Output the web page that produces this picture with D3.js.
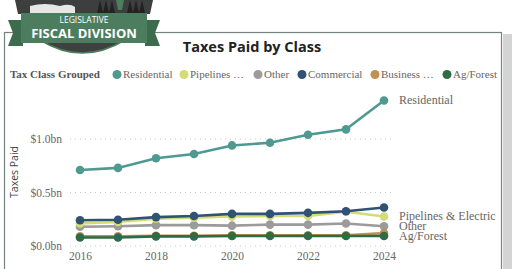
<!DOCTYPE html>
<html>
<head>
<meta charset="utf-8">
<script src="https://cdn.jsdelivr.net/npm/d3@7"></script>
<style>
  body { margin: 0; background: #fff; }
  svg { display: block; }
</style>
</head>
<body>
<div id="chart"></div>
<script>
// Data
var years = [2016, 2017, 2018, 2019, 2020, 2021, 2022, 2023, 2024];
var seriesNames = ["Residential", "Pipelines & Electric", "Other", "Commercial", "Business Equipment", "Ag/Forest"];
var legendLabels = ["Residential", "Pipelines …", "Other", "Commercial", "Business …", "Ag/Forest"];
var residential = [0.71, 0.73, 0.82, 0.86, 0.94, 0.965, 1.04, 1.09, 1.36];
var pipelines = [0.21, 0.225, 0.255, 0.265, 0.275, 0.28, 0.28, 0.32, 0.275];
var other = [0.18, 0.185, 0.195, 0.195, 0.19, 0.2, 0.2, 0.21, 0.185];
var commercial = [0.24, 0.245, 0.27, 0.28, 0.30, 0.30, 0.31, 0.325, 0.36];
var business = [0.09, 0.09, 0.095, 0.095, 0.10, 0.10, 0.10, 0.10, 0.12];
var agForest = [0.08, 0.08, 0.09, 0.09, 0.093, 0.093, 0.093, 0.093, 0.093];
var yTicks = [0, 0.5, 1.0];
var xTicks = [2016, 2018, 2020, 2022, 2024];
var endLabels = ["Residential", "Pipelines & Electric", "Other", "Ag/Forest"];

var colors = ["#4e9a91", "#d3dc76", "#9b9b9b", "#2f5275", "#c2914f", "#2e6b46"];
var allValues = [residential, pipelines, other, commercial, business, agForest];

var svgWidth = 512, svgHeight = 269;
var svg = d3.select("#chart").append("svg")
    .attr("width", svgWidth)
    .attr("height", svgHeight);

// card shadow + border
svg.append("rect").attr("x", 503).attr("y", 34).attr("width", 9).attr("height", 240)
    .attr("fill", "#d4d4d4");
svg.append("rect").attr("x", 4.5).attr("y", 32.5).attr("width", 497).attr("height", 250)
    .attr("fill", "#fff").attr("stroke", "#74837e").attr("stroke-width", 1.2);

// logo (approximate)
var logo = svg.append("g");
logo.append("path")
    .attr("d", "M15,0 L153,0 L150,14 L18,14 Z").attr("fill", "#3d3f3e");
logo.append("path")
    .attr("d", "M30,6 Q45,2 60,6 Q70,3 75,7 L75,13 L30,13 Z").attr("fill", "#e6e6e6");
[100, 106, 112, 130, 136, 142].forEach(function(x) {
    logo.append("path").attr("d", `M${x},0 L${x + 3},13 L${x - 3},13 Z`).attr("fill", "#222");
});
logo.append("path").attr("d", "M116,0 L124,0 L122,10 L118,10 Z").attr("fill", "#4b7d5e");
logo.append("path")
    .attr("d", "M40,40 Q82,66 125,40 Z").attr("fill", "#3f4140")
    .attr("stroke", "#4b7d5e").attr("stroke-width", 1.5);
logo.append("path").attr("d", "M8,20 L23,20 L23,46 L8,46 L13,33 Z").attr("fill", "#3c6b4d");
logo.append("path").attr("d", "M160,20 L145,20 L145,46 L160,46 L155,33 Z").attr("fill", "#3c6b4d");
logo.append("rect").attr("x", 21).attr("y", 13).attr("width", 126).attr("height", 30)
    .attr("fill", "#4b7d5e");
logo.append("text").attr("x", 84).attr("y", 23).attr("text-anchor", "middle")
    .attr("font-family", "Open Sans, sans-serif").attr("font-size", 8.5).attr("fill", "#fff")
    .text("LEGISLATIVE");
logo.append("text").attr("x", 84).attr("y", 38).attr("text-anchor", "middle")
    .attr("font-family", "Open Sans, sans-serif").attr("font-weight", "bold").attr("font-size", 13)
    .attr("fill", "#fff").text("FISCAL DIVISION");

// title
svg.append("text").attr("x", 252).attr("y", 52).attr("text-anchor", "middle")
    .attr("font-family", "Open Sans, sans-serif").attr("font-weight", "bold").attr("font-size", 14.5)
    .attr("fill", "#222").text("Taxes Paid by Class");

// legend
var legend = svg.append("g").attr("font-family", "Liberation Serif, serif").attr("font-size", 11);
legend.append("text").attr("x", 10).attr("y", 78).attr("font-weight", "bold").attr("fill", "#555")
    .text("Tax Class Grouped");
var legendX = [117, 184, 258, 302, 375, 447];
legendLabels.forEach(function(lbl, i) {
    legend.append("circle").attr("cx", legendX[i]).attr("cy", 74.5).attr("r", 4.5).attr("fill", colors[i]);
    legend.append("text").attr("x", legendX[i] + 6).attr("y", 78).attr("fill", "#666").text(lbl);
});

// scales
var x = d3.scaleLinear().domain([2016, 2024]).range([80, 384]);
var y = d3.scaleLinear().domain([0, 1]).range([246, 139]);

// grid
svg.append("g").selectAll("line").data(yTicks).enter().append("line")
    .attr("x1", 70).attr("x2", 395)
    .attr("y1", d => y(d)).attr("y2", d => y(d))
    .attr("stroke", "#c8c8c8").attr("stroke-width", 1).attr("stroke-dasharray", "1,4");

// y axis
var yAxis = svg.append("g").attr("transform", "translate(62,0)")
    .call(d3.axisLeft(y).tickValues(yTicks).tickSize(0).tickPadding(0)
        .tickFormat(d => "$" + d3.format(".1f")(d) + "bn"));
yAxis.select(".domain").remove();
yAxis.selectAll("text").attr("font-family", "Liberation Serif, serif").attr("font-size", 11.5)
    .attr("fill", "#666");

// x axis
var xAxis = svg.append("g").attr("transform", "translate(0,252)")
    .call(d3.axisBottom(x).tickValues(xTicks).tickSize(0).tickPadding(0).tickFormat(d3.format("d")));
xAxis.select(".domain").remove();
xAxis.selectAll("text").attr("font-family", "Liberation Serif, serif").attr("font-size", 11.5)
    .attr("fill", "#666");

// y axis title
svg.append("text").attr("transform", "translate(18,172) rotate(-90)").attr("text-anchor", "middle")
    .attr("font-family", "Open Sans, sans-serif").attr("font-size", 10.5).attr("fill", "#444")
    .text("Taxes Paid");

// lines
var line = d3.line().x((d, i) => x(years[i])).y(d => y(d));
var order = [0, 2, 1, 3, 4, 5];
order.forEach(function(s) {
    var g = svg.append("g");
    g.append("path").datum(allValues[s]).attr("d", line)
        .attr("fill", "none").attr("stroke", colors[s]).attr("stroke-width", 2.6);
    g.selectAll("circle").data(allValues[s]).enter().append("circle")
        .attr("cx", (d, i) => x(years[i])).attr("cy", d => y(d)).attr("r", 4.3)
        .attr("fill", colors[s]);
});

// end labels
var endY = [100, 216.5, 226, 236];
svg.append("g").selectAll("text").data(endLabels).enter().append("text")
    .attr("x", 399).attr("y", (d, i) => endY[i] + 3.5)
    .attr("font-family", "Liberation Serif, serif").attr("font-size", 12).attr("fill", "#666")
    .text(d => d);
</script>
</body>
</html>
